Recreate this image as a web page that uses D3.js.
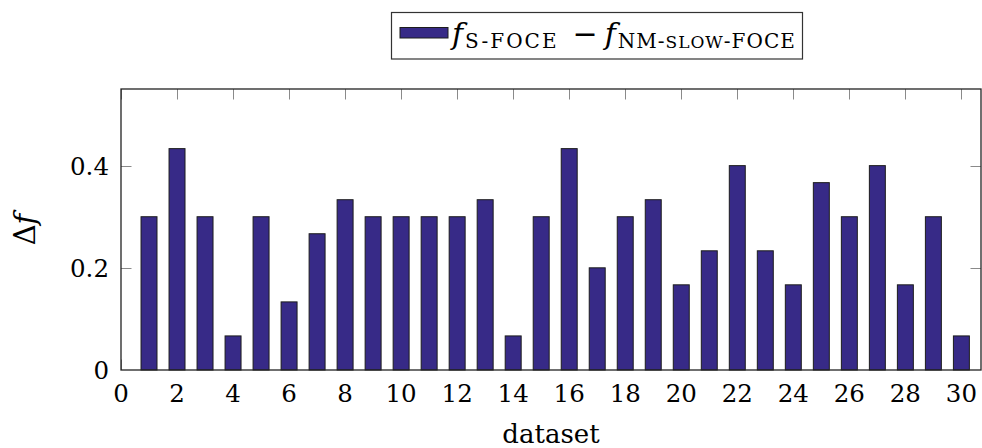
<!DOCTYPE html>
<html>
<head>
<meta charset="utf-8">
<script src="https://cdn.jsdelivr.net/npm/d3@7"></script>
<style>
  html, body { margin: 0; padding: 0; background: #fff; }
  svg { display: block; }
  text { font-family: "DejaVu Serif", serif; fill: #000; }
</style>
</head>
<body>
<svg id="chart" width="982" height="448"></svg>
<script>
// Dataset indices and the per-dataset difference in objective value
const datasets = [1, 2, 3, 4, 5, 6, 7, 8, 9, 10, 11, 12, 13, 14, 15,
                  16, 17, 18, 19, 20, 21, 22, 23, 24, 25, 26, 27, 28, 29, 30];
const deltaF = [0.3, 0.4333, 0.3, 0.0667, 0.3, 0.1333, 0.2667, 0.3333, 0.3, 0.3,
                0.3, 0.3, 0.3333, 0.0667, 0.3, 0.4333, 0.2, 0.3, 0.3333, 0.1667,
                0.2333, 0.4, 0.2333, 0.1667, 0.3667, 0.3, 0.4, 0.1667, 0.3, 0.0667];
const xTickValues = [0, 2, 4, 6, 8, 10, 12, 14, 16, 18, 20, 22, 24, 26, 28, 30];
const yTickValues = [0, 0.2, 0.4];

const svg = d3.select("#chart");
const W = 982, H = 448;
const plot = { left: 121, right: 981, top: 89, bottom: 370 };

const x = d3.scaleLinear().domain([0, 30.7]).range([plot.left, plot.right]);
const y = d3.scaleLinear().domain([0, 0.55]).range([plot.bottom, plot.top]);
const barHalf = 0.285;   // half bar width in dataset units
const tickLen = 10.5;
const barFill = "#372a87";

svg.append("rect").attr("width", W).attr("height", H).attr("fill", "#fff");

// Inward tick marks on all four sides
const ticks = svg.append("g").attr("stroke", "#8a8a8a").attr("stroke-width", 1);
ticks.selectAll("line.xt").data(xTickValues).join("line")
  .attr("class", "xt")
  .attr("x1", d => Math.round(x(d)) + 0.5).attr("x2", d => Math.round(x(d)) + 0.5)
  .attr("y1", plot.top).attr("y2", plot.top + tickLen);
ticks.selectAll("line.xb").data(xTickValues).join("line")
  .attr("class", "xb")
  .attr("x1", d => Math.round(x(d)) + 0.5).attr("x2", d => Math.round(x(d)) + 0.5)
  .attr("y1", plot.bottom).attr("y2", plot.bottom - tickLen);
ticks.selectAll("line.yl").data(yTickValues.filter(d => d > 0)).join("line")
  .attr("class", "yl")
  .attr("x1", plot.left).attr("x2", plot.left + tickLen)
  .attr("y1", d => Math.round(y(d)) + 0.5).attr("y2", d => Math.round(y(d)) + 0.5);
ticks.selectAll("line.yr").data(yTickValues.filter(d => d > 0)).join("line")
  .attr("class", "yr")
  .attr("x1", plot.right).attr("x2", plot.right - tickLen)
  .attr("y1", d => Math.round(y(d)) + 0.5).attr("y2", d => Math.round(y(d)) + 0.5);

// Bars
svg.append("g").selectAll("rect").data(deltaF).join("rect")
  .attr("x", (d, i) => x(datasets[i] - barHalf))
  .attr("width", (d, i) => x(datasets[i] + barHalf) - x(datasets[i] - barHalf))
  .attr("y", d => y(d))
  .attr("height", d => y(0) - y(d))
  .attr("fill", barFill)
  .attr("stroke", "#1c1c1c")
  .attr("stroke-width", 1);

// Frame
svg.append("rect")
  .attr("x", plot.left).attr("y", plot.top)
  .attr("width", plot.right - plot.left).attr("height", plot.bottom - plot.top)
  .attr("fill", "none").attr("stroke", "#222").attr("stroke-width", 1.3);

// Tick labels
svg.append("g").selectAll("text").data(xTickValues).join("text")
  .attr("x", d => x(d)).attr("y", 402)
  .attr("text-anchor", "middle")
  .attr("font-size", 24.5)
  .text(d => d);
svg.append("g").selectAll("text").data(yTickValues).join("text")
  .attr("x", plot.left - 12).attr("y", d => y(d) + 9)
  .attr("text-anchor", "end")
  .attr("font-size", 24.5)
  .text(d => d === 0 ? "0" : d3.format(".1f")(d));

// Axis titles
svg.append("text")
  .attr("x", (plot.left + plot.right) / 2).attr("y", 443)
  .attr("text-anchor", "middle").attr("font-size", 26)
  .text("dataset");
const yl = svg.append("text")
  .attr("transform", `translate(35,${(plot.top + plot.bottom) / 2}) rotate(-90)`)
  .attr("text-anchor", "middle").attr("font-size", 29);
yl.append("tspan").text("Δ");
yl.append("tspan").attr("font-style", "italic").text("f");

// Legend
const legend = svg.append("g");
legend.append("rect")
  .attr("x", 391.5).attr("y", 12.5).attr("width", 411).attr("height", 46.5)
  .attr("fill", "#fff").attr("stroke", "#333").attr("stroke-width", 1.2);
legend.append("rect")
  .attr("x", 400).attr("y", 27.5).attr("width", 48).attr("height", 10.5)
  .attr("fill", barFill).attr("stroke", "#1c1c1c").attr("stroke-width", 1);
const lt = legend.append("text").attr("x", 452).attr("y", 44).attr("font-size", 30);
lt.append("tspan").attr("font-style", "italic").text("f");
lt.append("tspan").attr("font-size", 20).attr("dy", 4).attr("dx", 2)
  .attr("letter-spacing", 2).text("S-FOCE");
lt.append("tspan").attr("dy", -4).attr("dx", 14).text("−");
lt.append("tspan").attr("font-style", "italic").attr("dx", 7).text("f");
lt.append("tspan").attr("font-size", 20).attr("dy", 4).attr("dx", 2)
  .attr("letter-spacing", 1).text("NM-");
lt.append("tspan").attr("font-size", 17).attr("letter-spacing", 1).text("SLOW");
lt.append("tspan").attr("font-size", 20).attr("letter-spacing", 1).text("-FOCE");
</script>
</body>
</html>
